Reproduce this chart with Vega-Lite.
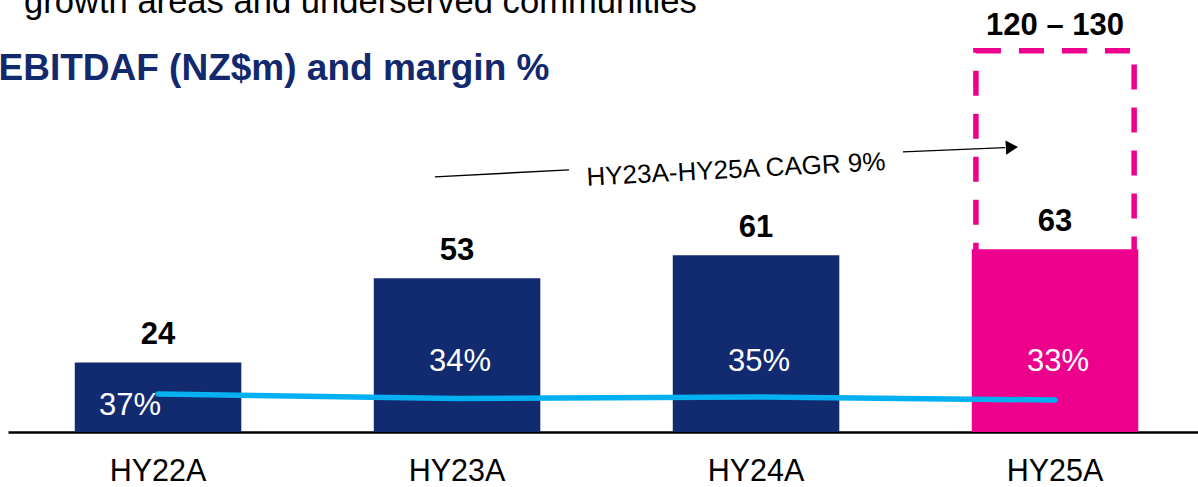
{
  "$schema": "https://vega.github.io/schema/vega-lite/v6.json",
  "width": 1190,
  "height": 432,
  "autosize": {"type": "none"},
  "padding": {"left": 8, "top": 0, "right": 0, "bottom": 55},
  "background": "white",
  "config": {"font": "Liberation Sans", "view": {"stroke": null}},
  "title": {
    "text": "growth areas and underserved communities",
    "anchor": "start",
    "frame": "group",
    "orient": "top",
    "fontSize": 34.6,
    "fontWeight": "normal",
    "color": "#000000",
    "baseline": "alphabetic",
    "dx": 16,
    "offset": -48
  },
  "datasets": {
    "main": [
      {"period": "HY22A", "ebitdaf": 24, "margin": 37, "marginLabel": "37%"},
      {"period": "HY23A", "ebitdaf": 53, "margin": 34, "marginLabel": "34%"},
      {"period": "HY24A", "ebitdaf": 61, "margin": 35, "marginLabel": "35%"},
      {"period": "HY25A", "ebitdaf": 63, "margin": 33, "marginLabel": "33%"}
    ],
    "guidance": [
      {"period": "HY25A", "low": 30, "high": 131.5, "label": "120 – 130"}
    ],
    "arrowSegments": [
      {"x": 0.926, "y": 88.0, "x2": 1.3746, "y2": 90.4},
      {"x": 2.4916, "y": 96.6, "x2": 2.833, "y2": 98.1}
    ],
    "arrowHead": [
      {"x": 2.856, "y": 98.2}
    ],
    "cagr": [
      {"x": 1.9331, "y": 90.4, "text": "HY23A-HY25A CAGR 9%"}
    ]
  },
  "resolve": {"scale": {"x": "independent", "y": "independent"}},
  "layer": [
    {
      "data": {"name": "guidance"},
      "mark": {"type": "bar", "fill": null, "fillOpacity": 0, "stroke": "#EC008C", "strokeWidth": 5.5, "strokeDash": [25, 18], "width": {"band": 0.95}},
      "encoding": {
        "x": {"field": "period", "type": "nominal", "sort": ["HY22A", "HY23A", "HY24A", "HY25A"], "scale": {"type": "band", "domain": ["HY22A", "HY23A", "HY24A", "HY25A"], "paddingInner": 0.443, "paddingOuter": 0.2115, "align": 0.528}, "axis": null},
        "y": {"field": "low", "type": "quantitative", "scale": {"domain": [0, 149], "nice": false, "zero": false}, "axis": null},
        "y2": {"field": "high"}
      }
    },
    {
      "data": {"name": "guidance"},
      "mark": {"type": "text", "fontSize": 31, "fontWeight": "bold", "color": "#000000", "baseline": "alphabetic", "align": "center", "dy": -16},
      "encoding": {
        "x": {"field": "period", "type": "nominal", "scale": {"type": "band", "domain": ["HY22A", "HY23A", "HY24A", "HY25A"], "paddingInner": 0.443, "paddingOuter": 0.2115, "align": 0.528}, "axis": null},
        "y": {"field": "high", "type": "quantitative", "scale": {"domain": [0, 149], "nice": false, "zero": false}, "axis": null},
        "text": {"field": "label"}
      }
    },
    {
      "data": {"name": "main"},
      "mark": {"type": "bar"},
      "encoding": {
        "x": {
          "field": "period", "type": "nominal",
          "scale": {"type": "band", "domain": ["HY22A", "HY23A", "HY24A", "HY25A"], "paddingInner": 0.443, "paddingOuter": 0.2115, "align": 0.528},
          "axis": {"title": null, "labelAngle": 0, "labelFontSize": 30.5, "labelColor": "#000000", "labelBaseline": "alphabetic", "labelPadding": 48, "ticks": false, "tickSize": 0, "domainColor": "#000000", "domainWidth": 2.5, "grid": false}
        },
        "y": {
          "field": "ebitdaf", "type": "quantitative",
          "scale": {"domain": [0, 149], "nice": false, "zero": false},
          "axis": {"title": "EBITDAF (NZ$m) and margin %", "titleAngle": 0, "titleAlign": "left", "titleBaseline": "alphabetic", "titleX": -10, "titleY": 79, "titleFontSize": 37, "titleFontWeight": "bold", "titleColor": "#12296E", "labels": false, "ticks": false, "domain": false, "grid": false}
        },
        "color": {"field": "period", "type": "nominal", "scale": {"domain": ["HY22A", "HY23A", "HY24A", "HY25A"], "range": ["#112A70", "#112A70", "#112A70", "#EC008C"]}, "legend": null}
      }
    },
    {
      "data": {"name": "main"},
      "mark": {"type": "text", "fontSize": 31, "fontWeight": "bold", "color": "#000000", "baseline": "alphabetic", "align": "center", "dy": -18},
      "encoding": {
        "x": {"field": "period", "type": "nominal", "scale": {"type": "band", "domain": ["HY22A", "HY23A", "HY24A", "HY25A"], "paddingInner": 0.443, "paddingOuter": 0.2115, "align": 0.528}, "axis": null},
        "y": {"field": "ebitdaf", "type": "quantitative", "scale": {"domain": [0, 149], "nice": false, "zero": false}, "axis": null},
        "text": {"field": "ebitdaf", "type": "quantitative"}
      }
    },
    {
      "data": {"name": "main"},
      "transform": [{"filter": "datum.period === 'HY22A'"}],
      "mark": {"type": "text", "fontSize": 31, "color": "#FFFFFF", "baseline": "middle", "align": "center", "xOffset": -28},
      "encoding": {
        "x": {"field": "period", "type": "nominal", "scale": {"type": "band", "domain": ["HY22A", "HY23A", "HY24A", "HY25A"], "paddingInner": 0.443, "paddingOuter": 0.2115, "align": 0.528}, "axis": null},
        "y": {"datum": 9, "type": "quantitative", "scale": {"domain": [0, 149], "nice": false, "zero": false}, "axis": null},
        "text": {"field": "marginLabel"}
      }
    },
    {
      "data": {"name": "main"},
      "transform": [{"filter": "datum.period !== 'HY22A'"}],
      "mark": {"type": "text", "fontSize": 31, "color": "#FFFFFF", "baseline": "middle", "align": "center", "xOffset": 3},
      "encoding": {
        "x": {"field": "period", "type": "nominal", "scale": {"type": "band", "domain": ["HY22A", "HY23A", "HY24A", "HY25A"], "paddingInner": 0.443, "paddingOuter": 0.2115, "align": 0.528}, "axis": null},
        "y": {"datum": 24.1, "type": "quantitative", "scale": {"domain": [0, 149], "nice": false, "zero": false}, "axis": null},
        "text": {"field": "marginLabel"}
      }
    },
    {
      "data": {"name": "main"},
      "mark": {"type": "line", "color": "#00B0F0", "strokeWidth": 5.5, "strokeCap": "round", "strokeJoin": "round"},
      "encoding": {
        "x": {"field": "period", "type": "nominal", "scale": {"type": "band", "domain": ["HY22A", "HY23A", "HY24A", "HY25A"], "paddingInner": 0.443, "paddingOuter": 0.2115, "align": 0.528}, "axis": null},
        "y": {"field": "margin", "type": "quantitative", "scale": {"domain": [11.67, 299.67], "nice": false, "zero": false}, "axis": null}
      }
    },
    {
      "data": {"name": "arrowSegments"},
      "mark": {"type": "rule", "color": "#000000", "strokeWidth": 1.4},
      "encoding": {
        "x": {"field": "x", "type": "quantitative", "scale": {"domain": [-0.5017, 3.4783], "nice": false, "zero": false}, "axis": null},
        "x2": {"field": "x2"},
        "y": {"field": "y", "type": "quantitative", "scale": {"domain": [0, 149], "nice": false, "zero": false}, "axis": null},
        "y2": {"field": "y2"}
      }
    },
    {
      "data": {"name": "arrowHead"},
      "mark": {"type": "point", "shape": "triangle-right", "filled": true, "color": "#000000", "opacity": 1, "size": 200, "angle": -3},
      "encoding": {
        "x": {"field": "x", "type": "quantitative", "scale": {"domain": [-0.5017, 3.4783], "nice": false, "zero": false}, "axis": null},
        "y": {"field": "y", "type": "quantitative", "scale": {"domain": [0, 149], "nice": false, "zero": false}, "axis": null}
      }
    },
    {
      "data": {"name": "cagr"},
      "mark": {"type": "text", "fontSize": 26, "color": "#000000", "baseline": "middle", "align": "center", "angle": -3},
      "encoding": {
        "x": {"field": "x", "type": "quantitative", "scale": {"domain": [-0.5017, 3.4783], "nice": false, "zero": false}, "axis": null},
        "y": {"field": "y", "type": "quantitative", "scale": {"domain": [0, 149], "nice": false, "zero": false}, "axis": null},
        "text": {"field": "text"}
      }
    }
  ]
}
